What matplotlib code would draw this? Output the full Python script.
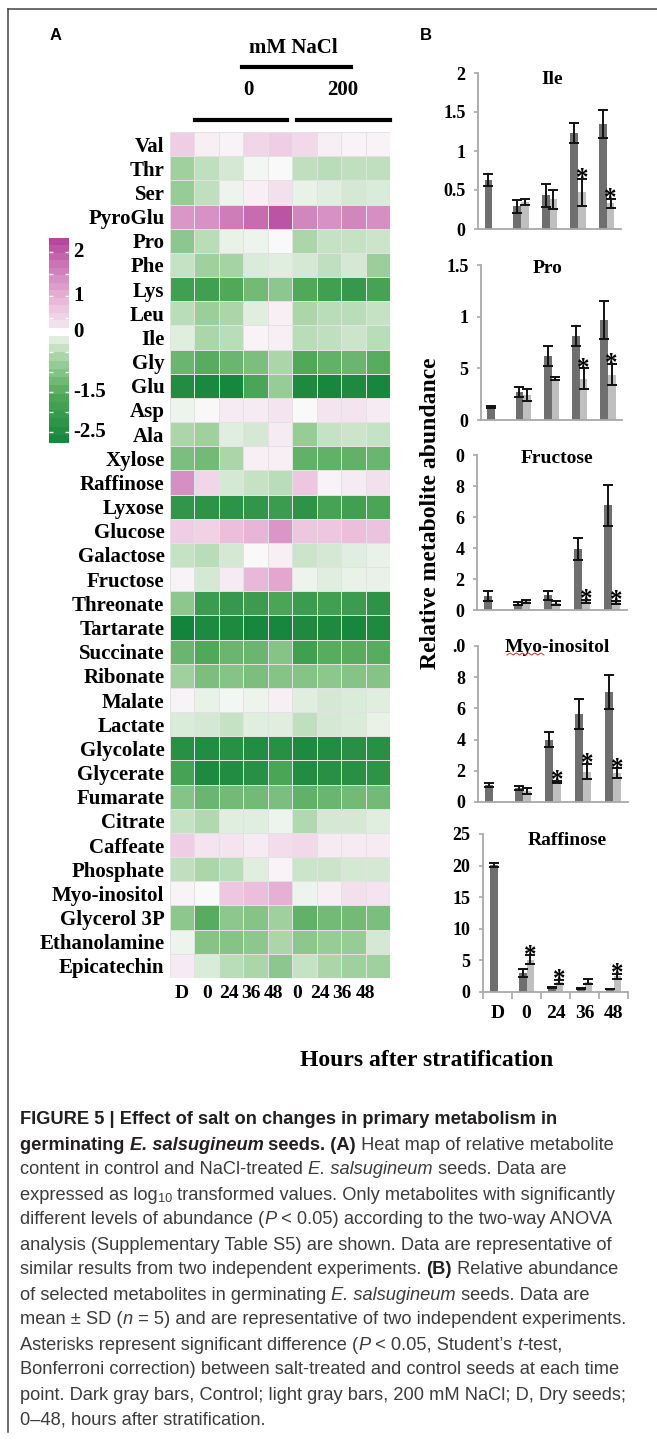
import numpy as np
import matplotlib
matplotlib.use("Agg")
import matplotlib.pyplot as plt
from matplotlib.colors import LinearSegmentedColormap, TwoSlopeNorm
from matplotlib.lines import Line2D

W, H = 657, 1440

# ---- panel A data (log10 relative content) ----
metabolites = ["Val", "Thr", "Ser", "PyroGlu", "Pro", "Phe", "Lys", "Leu", "Ile",
               "Gly", "Glu", "Asp", "Ala", "Xylose", "Raffinose", "Lyxose",
               "Glucose", "Galactose", "Fructose", "Threonate", "Tartarate",
               "Succinate", "Ribonate", "Malate", "Lactate", "Glycolate",
               "Glycerate", "Fumarate", "Citrate", "Caffeate", "Phosphate",
               "Myo-inositol", "Glycerol 3P", "Ethanolamine", "Epicatechin"]
time_labels = ["D", "0", "24", "36", "48", "0", "24", "36", "48"]
heat_values = np.array([
    [0.60, 0.15, 0.10, 0.50, 0.60, 0.45, 0.15, 0.10, 0.10],
    [-0.70, -0.45, -0.30, -0.05, 0.00, -0.45, -0.50, -0.45, -0.45],
    [-0.80, -0.45, -0.10, 0.15, 0.35, -0.15, -0.20, -0.30, -0.25],
    [1.30, 1.35, 1.60, 1.80, 2.10, 1.50, 1.35, 1.50, 1.40],
    [-0.90, -0.50, -0.15, -0.10, 0.00, -0.60, -0.40, -0.40, -0.35],
    [-0.40, -0.70, -0.65, -0.25, -0.20, -0.30, -0.45, -0.30, -0.75],
    [-1.90, -1.90, -1.60, -1.20, -0.90, -1.60, -1.90, -2.10, -1.80],
    [-0.50, -0.75, -0.60, -0.20, 0.15, -0.60, -0.50, -0.50, -0.40],
    [-0.20, -0.60, -0.50, 0.10, 0.15, -0.50, -0.45, -0.35, -0.50],
    [-1.30, -1.50, -1.30, -1.10, -0.60, -1.60, -1.40, -1.30, -1.50],
    [-2.50, -2.65, -2.70, -1.70, -0.80, -2.60, -2.70, -2.60, -2.70],
    [-0.10, 0.05, 0.20, 0.20, 0.30, 0.00, 0.30, 0.30, 0.20],
    [-0.60, -0.70, -0.20, -0.30, 0.20, -0.80, -0.40, -0.35, -0.40],
    [-1.10, -1.20, -0.60, 0.15, 0.15, -1.40, -1.40, -1.40, -1.30],
    [1.40, 0.50, -0.30, -0.40, -0.50, 0.70, 0.10, 0.20, 0.35],
    [-2.20, -2.30, -2.30, -2.20, -2.00, -2.30, -1.80, -1.90, -1.70],
    [0.60, 0.55, 0.80, 0.95, 1.30, 0.70, 0.70, 0.80, 0.75],
    [-0.40, -0.50, -0.30, 0.00, 0.15, -0.35, -0.30, -0.20, -0.15],
    [0.10, -0.30, 0.20, 0.90, 1.10, -0.10, -0.20, -0.15, -0.15],
    [-0.90, -2.00, -2.10, -2.00, -1.70, -2.00, -1.90, -2.00, -2.30],
    [-2.80, -2.60, -2.60, -2.70, -2.70, -2.60, -2.60, -2.70, -2.60],
    [-1.30, -1.60, -1.30, -1.30, -1.00, -1.90, -1.50, -1.50, -1.50],
    [-0.70, -1.10, -1.00, -1.10, -1.00, -1.00, -0.90, -1.00, -1.00],
    [0.10, -0.15, -0.05, -0.10, 0.15, -0.20, -0.30, -0.25, -0.20],
    [-0.25, -0.30, -0.40, -0.20, -0.20, -0.45, -0.30, -0.25, -0.15],
    [-2.40, -2.50, -2.40, -2.50, -2.40, -2.60, -2.50, -2.40, -2.40],
    [-1.80, -2.60, -2.50, -2.40, -1.70, -2.50, -2.40, -2.40, -2.30],
    [-1.00, -1.30, -1.20, -1.20, -1.10, -1.40, -1.30, -1.20, -1.20],
    [-0.40, -0.55, -0.20, -0.20, -0.10, -0.55, -0.30, -0.30, -0.20],
    [0.60, 0.30, 0.30, 0.20, 0.40, 0.45, 0.20, 0.20, 0.20],
    [-0.45, -0.60, -0.50, -0.20, 0.10, -0.35, -0.35, -0.30, -0.30],
    [0.10, 0.00, 0.70, 0.80, 1.00, -0.10, 0.15, 0.35, 0.30],
    [-0.90, -1.50, -0.90, -1.00, -0.70, -1.40, -1.20, -1.20, -1.10],
    [-0.10, -1.00, -1.00, -0.90, -0.60, -0.90, -0.80, -0.80, -0.30],
    [0.20, -0.25, -0.50, -0.60, -0.90, -0.40, -0.60, -0.70, -0.70],
])

# ---- panel B data (mean, SD; salt has no dry-seed value) ----
groups = ["D", "0", "24", "36", "48"]

ile_ctrl = [0.63, 0.29, 0.43, 1.23, 1.35]
ile_ctrl_sd = [0.08, 0.08, 0.15, 0.13, 0.18]
ile_salt = [None, 0.35, 0.38, 0.47, 0.33]
ile_salt_sd = [None, 0.04, 0.12, 0.17, 0.06]
ile_sig = [3, 4]

pro_ctrl = [0.13, 0.27, 0.62, 0.81, 0.97]
pro_ctrl_sd = [0.01, 0.05, 0.10, 0.095, 0.185]
pro_salt = [None, 0.24, 0.40, 0.40, 0.44]
pro_salt_sd = [None, 0.06, 0.015, 0.10, 0.10]
pro_sig = [3, 4]

fru_ctrl = [0.9, 0.4, 0.95, 3.95, 6.75]
fru_ctrl_sd = [0.3, 0.1, 0.3, 0.72, 1.33]
fru_salt = [None, 0.55, 0.45, 0.55, 0.5]
fru_salt_sd = [None, 0.12, 0.1, 0.1, 0.1]
fru_sig = [3, 4]

myo_ctrl = [1.12, 0.9, 4.0, 5.65, 7.05]
myo_ctrl_sd = [0.13, 0.1, 0.48, 0.97, 1.07]
myo_salt = [None, 0.7, 1.3, 1.95, 1.85]
myo_salt_sd = [None, 0.2, 0.06, 0.5, 0.3]
myo_sig = [2, 3, 4]

raf_ctrl = [20.1, 3.0, 0.7, 0.6, 0.5]
raf_ctrl_sd = [0.3, 0.6, 0.05, 0.05, 0.05]
raf_salt = [None, 5.1, 1.6, 1.6, 2.5]
raf_salt_sd = [None, 0.7, 0.35, 0.4, 0.4]
raf_sig = [1, 2, 4]

SERIF = "Liberation Serif"
SANS = ["Liberation Sans Narrow", "Liberation Sans"]


def fx(x):
    return x / W


def fy(y):
    return 1 - y / H


def box(l, t, r, b):
    return [l / W, 1 - b / H, (r - l) / W, (b - t) / H]


fig = plt.figure(figsize=(W / 100, H / 100), dpi=100)
fig.patch.set_facecolor("white")

# frame (only left and top edges visible)
fig.add_artist(Line2D([fx(8), fx(8)], [fy(9), fy(1432)], color="#444444", lw=1.1))
fig.add_artist(Line2D([fx(8), fx(657)], [fy(9), fy(9)], color="#444444", lw=1.1))

fig.text(fx(50), fy(36), "A", fontsize=12, fontweight="bold", family="Liberation Sans", va="center")
fig.text(fx(420), fy(36), "B", fontsize=12, fontweight="bold", family="Liberation Sans", va="center")

# ---- heat map ----
cmap = LinearSegmentedColormap.from_list("gm", [
    (0.0, "#13843b"), (0.22, "#52a95a"), (0.38, "#a3d2a1"),
    (0.5, "#fafafa"), (0.7, "#e9b6d8"), (1.0, "#b3449a")])
norm = TwoSlopeNorm(vmin=-2.8, vcenter=0, vmax=2.3)

ax = fig.add_axes(box(170, 132, 390, 978))
ax.pcolormesh(heat_values, cmap=cmap, norm=norm, edgecolors="#e2e2e2", linewidth=0.6)
ax.set_xlim(0, heat_values.shape[1])
ax.set_ylim(heat_values.shape[0], 0)
ax.set_yticks(np.arange(len(metabolites)) + 0.5, metabolites)
col_px = np.array([182, 207, 229, 251, 273, 297, 320, 342, 365])
ax.set_xticks((col_px - 170) / (220 / 9), time_labels)
for lab in ax.get_yticklabels():
    lab.set_fontfamily(SERIF)
    lab.set_fontweight("bold")
    lab.set_fontsize(15)
for lab in ax.get_xticklabels():
    lab.set_fontfamily(SERIF)
    lab.set_fontweight("bold")
    lab.set_fontsize(14)
ax.tick_params(length=0, pad=4)
ax.tick_params(axis="x", pad=5)
for s in ax.spines.values():
    s.set_visible(False)

serif_bold = dict(family=SERIF, fontweight="bold")
fig.text(fx(293), fy(48), "mM NaCl", fontsize=15, ha="center", va="center", **serif_bold)
fig.add_artist(Line2D([fx(242), fx(351)], [fy(67), fy(67)], color="black", lw=3))
fig.text(fx(248), fy(90), "0", fontsize=15, ha="center", va="center", **serif_bold)
fig.text(fx(343), fy(90), "200", fontsize=15, ha="center", va="center", **serif_bold)
fig.add_artist(Line2D([fx(195), fx(287)], [fy(120), fy(120)], color="black", lw=3))
fig.add_artist(Line2D([fx(297), fx(390)], [fy(120), fy(120)], color="black", lw=3))

# ---- colour key ----
for (t, b, lo, hi, n, ticks) in [(238, 328, 0.27, 2.32, 12, [0.5, 1, 1.5, 2]),
                                 (336, 443, -2.78, -0.10, 13, [-0.5, -1, -1.5, -2, -2.5])]:
    cax = fig.add_axes(box(49, t, 69, b))
    edges = np.linspace(lo, hi, n + 1)
    mids = (edges[:-1] + edges[1:]) / 2
    cax.pcolormesh([0, 1], edges, mids[:, None], cmap=cmap, norm=norm)
    cax.set_xlim(0, 1)
    cax.set_ylim(lo, hi)
    cax.set_xticks([])
    cax.set_yticks(ticks)
    cax.set_yticklabels([])
    cax.tick_params(axis="y", direction="in", color="white", length=3, width=1,
                    left=True, right=True)
    for s in cax.spines.values():
        s.set_visible(False)

for lab, yy in [("2", 252), ("1", 296), ("0", 332), ("-1.5", 392), ("-2.5", 432)]:
    fig.text(fx(73), fy(yy), lab, fontsize=15, ha="left", va="center", **serif_bold)


# ---- bar charts ----
def bar_panel(rect, ctrl, ctrl_sd, salt, salt_sd, sig, ylim, yticks, yticklabels,
              title, title_pos, bottom=False):
    bx = fig.add_axes(box(*rect))
    x = np.arange(len(groups))
    w = 0.27
    ekw = dict(elinewidth=1.4, capthick=1.4, ecolor="#111111")
    bx.bar(x - w / 2, ctrl, w, color="#6f6f6f", yerr=ctrl_sd, capsize=3.5,
           error_kw=ekw, zorder=2)
    si = [i for i in range(len(groups)) if salt[i] is not None]
    bx.bar(x[si] + w / 2, [salt[i] for i in si], w, color="#bfbfbf",
           yerr=[salt_sd[i] for i in si], capsize=3.5, error_kw=ekw, zorder=2)
    for i in sig:
        bx.annotate("*", (x[i] + w / 2, salt[i] + salt_sd[i]), xytext=(0, -4.5),
                    textcoords="offset points", ha="center", va="baseline",
                    fontsize=18, **serif_bold)
    bx.set_xlim(-0.5, len(groups) - 0.5)
    bx.set_ylim(*ylim)
    bx.set_yticks(yticks, yticklabels)
    for s in ["top", "right"]:
        bx.spines[s].set_visible(False)
    for s in ["left", "bottom"]:
        bx.spines[s].set_color("#a8a8a8")
        bx.spines[s].set_linewidth(1.3)
    bx.tick_params(axis="y", length=3, width=1.2, color="#a8a8a8", pad=6)
    for lab in bx.get_yticklabels():
        lab.set_fontfamily(SERIF)
        lab.set_fontweight("bold")
        lab.set_fontsize(13)
    if bottom:
        bx.set_xticks(x, groups)
        bx.set_xticks(np.arange(len(groups) + 1) - 0.5, minor=True)
        bx.tick_params(axis="x", which="major", length=0, pad=9)
        bx.tick_params(axis="x", which="minor", length=5, width=1.2, color="#a8a8a8")
        for lab in bx.get_xticklabels():
            lab.set_fontfamily(SERIF)
            lab.set_fontweight("bold")
            lab.set_fontsize(14)
    else:
        bx.set_xticks([])
    bx.text(title_pos[0], title_pos[1], title, transform=bx.transAxes, ha="center",
            va="center", fontsize=14, **serif_bold)
    return bx


bar_panel((478, 73, 621, 229), ile_ctrl, ile_ctrl_sd, ile_salt, ile_salt_sd, ile_sig,
          (0, 2), [0, 0.5, 1, 1.5, 2], ["0", "0.5", "1", "1.5", "2"], "Ile", (0.52, 0.96))
bar_panel((481, 265, 622, 420), pro_ctrl, pro_ctrl_sd, pro_salt, pro_salt_sd, pro_sig,
          (0, 1.5), [0, 0.5, 1, 1.5], ["0", "5", "1", "1.5"], "Pro", (0.475, 0.98))
bar_panel((477, 455, 627, 610), fru_ctrl, fru_ctrl_sd, fru_salt, fru_salt_sd, fru_sig,
          (0, 10), [0, 2, 4, 6, 8, 10], ["0", "2", "4", "6", "8", "0"], "Fructose", (0.53, 0.98))
bar_panel((478, 646, 628, 802), myo_ctrl, myo_ctrl_sd, myo_salt, myo_salt_sd, myo_sig,
          (0, 10), [0, 2, 4, 6, 8, 10], ["0", "2", "4", "6", "8", ".0"], "Myo-inositol", (0.53, 0.99))
bar_panel((483, 834, 628, 992), raf_ctrl, raf_ctrl_sd, raf_salt, raf_salt_sd, raf_sig,
          (0, 25), [0, 5, 10, 15, 20, 25], ["0", "5", "10", "15", "20", "25"], "Raffinose",
          (0.58, 0.96), bottom=True)

# spell-check squiggle under "Myo"
sq_x = np.linspace(507, 544, 13)
sq_y = 654 + np.where(np.arange(13) % 2, -1, 1)
fig.add_artist(Line2D(fx(sq_x), fy(sq_y), color="#d9302c", lw=0.7))

fig.text(fx(430), fy(513), "Relative metabolite abundance", rotation=90, fontsize=17,
         ha="center", va="center", **serif_bold)
fig.text(fx(427), fy(1061), "Hours after stratification", fontsize=17,
         ha="center", va="center", **serif_bold)

# ---- caption ----
renderer = fig.canvas.get_renderer()


def seg_width(s, **kw):
    t1 = fig.text(0, 0, "|" + s + "|", **kw)
    t2 = fig.text(0, 0, "||", **kw)
    w = t1.get_window_extent(renderer).width - t2.get_window_extent(renderer).width
    t1.remove()
    t2.remove()
    return w


ref_line = "mean \u00b1 SD (n = 5) and are representative of two independent experiments."
cap_fs = 10 * 610 / seg_width(ref_line, fontsize=10, family=SANS)

B, I, BI, N, SUB = "b", "i", "bi", "n", "sub"
caption = [
    [("FIGURE 5 | Effect of salt on changes in primary metabolism in", B)],
    [("germinating ", B), ("E. salsugineum", BI), (" seeds. (A)", B), (" Heat map of relative metabolite", N)],
    [("content in control and NaCl-treated ", N), ("E. salsugineum", I), (" seeds. Data are", N)],
    [("expressed as log", N), ("10", SUB), (" transformed values. Only metabolites with significantly", N)],
    [("different levels of abundance (", N), ("P", I), (" < 0.05) according to the two-way ANOVA", N)],
    [("analysis (Supplementary Table S5) are shown. Data are representative of", N)],
    [("similar results from two independent experiments. ", N), ("(B)", B), (" Relative abundance", N)],
    [("of selected metabolites in germinating ", N), ("E. salsugineum", I), (" seeds. Data are", N)],
    [("mean \u00b1 SD (", N), ("n", I), (" = 5) and are representative of two independent experiments.", N)],
    [("Asterisks represent significant difference (", N), ("P", I), (" < 0.05, Student\u2019s ", N),
     ("t", I), ("-test,", N)],
    [("Bonferroni correction) between salt-treated and control seeds at each time", N)],
    [("point. Dark gray bars, Control; light gray bars, 200 mM NaCl; D, Dry seeds;", N)],
    [("0\u201348, hours after stratification.", N)],
]
for k, line in enumerate(caption):
    y = 1118 + 25 * k
    x = 20
    for text, st in line:
        kw = dict(family=SANS, fontsize=cap_fs, color="#3c3c3c")
        dy = 0
        if st in (B, BI):
            kw["fontweight"] = "bold"
            kw["color"] = "#231f20"
        if st in (I, BI):
            kw["fontstyle"] = "italic"
        if st == SUB:
            kw["fontsize"] = cap_fs * 0.7
            dy = 4
        fig.text(fx(x), fy(y + dy), text, ha="left", va="center_baseline", **kw)
        x += seg_width(text, **kw)

fig.savefig("out.png", dpi=100, facecolor="white")
